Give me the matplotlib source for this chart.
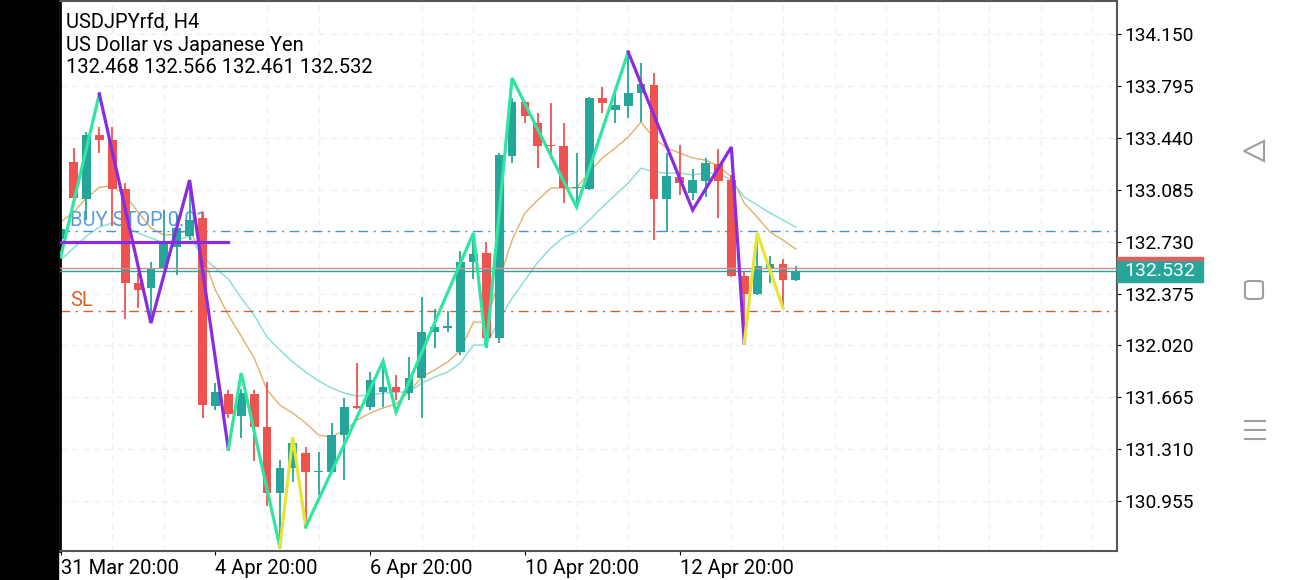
import numpy as np
import matplotlib
matplotlib.use("Agg")
import matplotlib.pyplot as plt
import matplotlib.transforms as mtransforms
from matplotlib.patches import Rectangle, Polygon, FancyBboxPatch

plt.rcParams['font.family'] = ['Roboto', 'DejaVu Sans']

# H4 candles, USDJPYrfd
opens = [132.748, 133.274, 133.021, 133.459, 133.425, 133.090, 132.447, 132.413, 132.549, 132.693,
         132.768, 132.891, 131.606, 131.688, 131.537, 131.688, 131.462, 131.010, 131.181, 131.284,
         131.154, 131.154, 131.407, 131.606, 131.599, 131.701, 131.735, 131.694, 131.797, 132.112,
         132.139, 131.975, 132.590, 132.652, 132.071, 133.316, 133.685, 133.541, 133.391, 133.384,
         133.097, 133.090, 133.712, 133.630, 133.658, 133.746, 133.801, 133.021, 133.172, 133.062,
         133.145, 133.261, 133.151, 132.495, 132.372, 132.549, 132.577, 132.468]
highs = [132.864, 133.370, 133.480, 133.514, 133.514, 133.131, 132.515, 132.590, 132.946, 132.912,
         133.117, 132.932, 131.763, 131.715, 131.722, 131.715, 131.770, 131.236, 131.393, 131.325,
         131.291, 131.489, 131.660, 131.900, 131.838, 131.920, 131.818, 131.941, 132.351, 132.269,
         132.255, 132.666, 132.775, 132.727, 133.336, 133.712, 133.690, 133.610, 133.678, 133.541,
         133.336, 133.719, 133.787, 133.740, 134.027, 133.952, 133.883, 133.336, 133.391, 133.227,
         133.302, 133.363, 133.185, 132.522, 132.789, 132.632, 132.611, 132.566]
lows = [132.590, 133.020, 132.878, 133.336, 132.837, 132.201, 132.276, 132.194, 132.540, 132.502,
        132.741, 131.523, 131.578, 131.523, 131.387, 131.229, 130.922, 130.641, 131.086, 130.778,
        130.997, 131.150, 131.099, 131.585, 131.578, 131.599, 131.647, 131.647, 131.523, 132.002,
        132.112, 131.954, 132.474, 132.060, 132.036, 133.268, 133.541, 133.233, 133.295, 132.994,
        132.967, 133.085, 133.610, 133.541, 133.575, 133.548, 132.741, 132.796, 133.049, 133.015,
        133.035, 132.891, 132.488, 132.043, 132.365, 132.447, 132.276, 132.461]
closes = [132.816, 133.028, 133.459, 133.425, 133.090, 132.447, 132.399, 132.549, 132.734, 132.823,
          132.878, 131.612, 131.701, 131.551, 131.694, 131.462, 131.010, 131.181, 131.352, 131.154,
          131.160, 131.407, 131.599, 131.592, 131.783, 131.735, 131.701, 131.797, 132.112, 132.146,
          132.153, 132.590, 132.645, 132.071, 133.322, 133.685, 133.589, 133.384, 133.384, 133.097,
          133.104, 133.712, 133.678, 133.664, 133.746, 133.808, 133.021, 133.179, 133.131, 133.151,
          133.268, 133.145, 132.495, 132.372, 132.563, 132.577, 132.470, 132.532]

ma_fast = [132.864, 132.932, 133.028, 133.103, 133.110, 133.049, 132.932, 132.823, 132.775, 132.782,
           132.809, 132.638, 132.399, 132.228, 132.084, 131.934, 131.715, 131.612, 131.558, 131.489,
           131.407, 131.393, 131.441, 131.510, 131.558, 131.592, 131.619, 131.701, 131.804, 131.852,
           131.906, 131.989, 132.180, 132.180, 132.467, 132.741, 132.926, 133.015, 133.097, 133.097,
           133.097, 133.206, 133.302, 133.370, 133.445, 133.548, 133.439, 133.370, 133.336, 133.302,
           133.288, 133.247, 133.172, 132.994, 132.898, 132.796, 132.741, 132.679]
ma_slow = [132.604, 132.686, 132.768, 132.830, 132.857, 132.830, 132.789, 132.755, 132.720, 132.741,
           132.768, 132.625, 132.549, 132.474, 132.344, 132.228, 132.077, 131.989, 131.906, 131.838,
           131.777, 131.729, 131.694, 131.674, 131.681, 131.694, 131.701, 131.701, 131.763, 131.804,
           131.838, 131.900, 132.023, 132.023, 132.194, 132.344, 132.467, 132.590, 132.686, 132.761,
           132.796, 132.878, 132.967, 133.049, 133.131, 133.233, 133.206, 133.199, 133.199, 133.186,
           133.199, 133.199, 133.151, 133.035, 132.980, 132.926, 132.878, 132.830]

# zigzag legs: (bar indexes, prices, colour)
zigzag = [
    ([0, 3], [132.625, 133.740], '#2ee6a0'),
    ([3, 7, 10, 13], [133.740, 132.173, 133.151, 131.311], '#8a2be2'),
    ([13, 14, 17], [131.311, 131.831, 130.641], '#2ee6a0'),
    ([17, 18, 19], [130.641, 131.393, 130.778], '#e3e636'),
    ([19, 25, 26, 32, 33, 35, 40, 44], [130.778, 131.913, 131.564, 132.789, 132.002, 133.849, 132.967, 134.027], '#2ee6a0'),
    ([44, 49, 52, 53], [134.027, 132.946, 133.377, 132.036], '#8a2be2'),
    ([53, 54, 56], [132.036, 132.789, 132.276], '#e3e636'),
]
trend_x = [0, 13]
trend_y = [132.727, 132.727]

buy_stop = 132.803
stop_loss = 132.255
bid = 132.532
ask = 132.549

yticks = [130.955, 131.310, 131.665, 132.020, 132.375, 132.730, 133.085, 133.440, 133.795, 134.150]
xtick_pos = [0, 12, 24, 36, 48]
xtick_labels = ['31 Mar 20:00', '4 Apr 20:00', '6 Apr 20:00', '10 Apr 20:00', '12 Apr 20:00']

up_col = '#26a69a'
dn_col = '#ef5350'

fig = plt.figure(figsize=(12.9, 5.8), dpi=100)
ax = fig.add_axes([60/1290, 29/580, 1057/1290, 550/580])

x = np.arange(len(opens))
o = np.array(opens)
c = np.array(closes)
cols = [up_col if cc >= oo else dn_col for oo, cc in zip(o, c)]
body = np.maximum(np.abs(c - o), 0.008)
bottom = np.minimum(o, c)

# moving averages
ax.plot(x, ma_fast, color='#e2b06a', lw=1.0, zorder=1.2)
ax.plot(x, ma_slow, color='#86dcd8', lw=1.0, zorder=1.2)

# order lines
ax.axhline(buy_stop, color='#4f8fd6', lw=1.0, ls=(0, (7, 4, 1.5, 4)), zorder=1.5)
ax.axhline(stop_loss, color='#c8652e', lw=1.0, ls=(0, (7, 4, 1.5, 4)), zorder=1.5)
bt = mtransforms.blended_transform_factory(ax.transAxes, ax.transData)
ax.text(0.0095, buy_stop + 0.035, 'BUY STOP 0.01', transform=bt, color='#5b9bd8',
        fontsize=14.5, va='baseline', ha='left', zorder=1.6)
ax.text(0.0095, stop_loss + 0.035, 'SL', transform=bt, color='#d4622c',
        fontsize=14.5, va='baseline', ha='left', zorder=1.6)

# candles
ax.vlines(x, lows, highs, colors=cols, lw=1.3, zorder=2)
ax.bar(x, body, bottom=bottom, width=0.68, color=cols, zorder=2.5)

# bid / ask
ax.axhline(ask, color='#d48a8a', lw=1.0, zorder=3)
ax.axhline(bid, color=up_col, lw=1.0, zorder=3)

# zigzag and trend line
for zx, zy, zc in zigzag:
    ax.plot(zx, zy, color=zc, lw=2.3, zorder=4, solid_joinstyle='miter')
ax.plot(trend_x, trend_y, color='#8a2be2', lw=2.3, zorder=4)

ax.set_xlim(-0.05, 81.9)
ax.set_ylim(130.614, 134.376)

ax.set_yticks(yticks)
ax.set_yticklabels(['%.3f' % v for v in yticks])
ax.yaxis.tick_right()
ax.tick_params(axis='y', length=3, labelsize=13.8, pad=2, colors='black')
ax.set_xticks(xtick_pos)
ax.set_xticklabels(xtick_labels, ha='left')
ax.tick_params(axis='x', length=3, labelsize=14.5, pad=3)
ax.set_xticks(np.arange(0, 82, 4), minor=True)
ax.tick_params(which='minor', length=0)

ax.grid(True, which='minor', axis='x', color='#efefef', ls=(0, (5, 4)), lw=0.9, zorder=0)
ax.grid(True, which='major', axis='y', color='#efefef', ls=(0, (5, 4)), lw=0.9, zorder=0)
ax.set_axisbelow(True)

for s in ['top', 'right', 'bottom']:
    ax.spines[s].set_color('#555555')
    ax.spines[s].set_linewidth(1.5)
ax.spines['left'].set_color('black')
ax.spines['left'].set_linewidth(2)

# header
ax.text(0.0057, 0.951, 'USDJPYrfd, H4', transform=ax.transAxes, fontsize=14.5, va='baseline')
ax.text(0.0057, 0.909, 'US Dollar vs Japanese Yen', transform=ax.transAxes, fontsize=14.5, va='baseline')
ax.text(0.0057, 0.869, '%.3f %.3f %.3f %.3f' % (opens[-1], highs[-1], lows[-1], closes[-1]),
        transform=ax.transAxes, fontsize=14.5, va='baseline')

# current price tag
tag_w = 86 / 1057
half = 11 / 146.2
ax.add_patch(Rectangle((1.0, bid - half), tag_w, 2 * half, transform=bt, color=up_col,
                       clip_on=False, zorder=5))
ax.add_patch(Rectangle((1.0, bid + half), tag_w, 0.016, transform=bt, color='#e06060',
                       clip_on=False, zorder=5))
ax.text(1.0 + tag_w / 2, bid, '%.3f' % bid, transform=bt, color='white', fontsize=14,
        ha='center', va='center', zorder=6)

# phone frame: black strip and navigation keys
fig.patches.append(Rectangle((0, 0), 58/1290, 1, transform=fig.transFigure, color='black', zorder=0))
def px(xp, yp):
    return (xp / 1290, 1 - yp / 580)
fig.patches.append(Polygon([px(1244, 151), px(1264, 141), px(1264, 161)], closed=True, fill=False,
                           ec='#9e9e9e', lw=1.5, transform=fig.transFigure))
fig.patches.append(FancyBboxPatch(px(1245, 299), 18/1290, 18/580, boxstyle='round,pad=0,rounding_size=0.004',
                                  fill=False, ec='#9e9e9e', lw=1.5, transform=fig.transFigure))
for yy in [421, 430, 439]:
    fig.lines.append(plt.Line2D([1245/1290, 1265/1290], [1 - yy/580, 1 - yy/580], color='#9e9e9e',
                                lw=1.5, transform=fig.transFigure))

fig.savefig('out.png', dpi=100)
